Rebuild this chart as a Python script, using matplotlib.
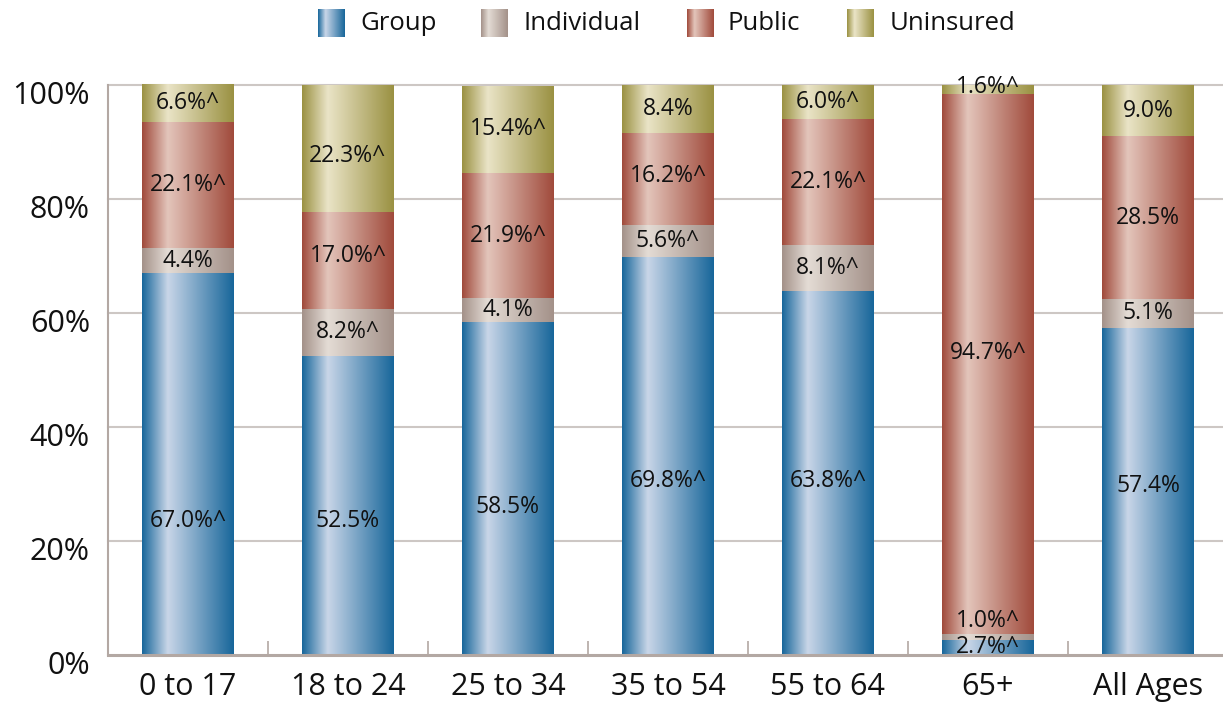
import numpy as np
import matplotlib
matplotlib.use('Agg')
import matplotlib.pyplot as plt
from matplotlib.colors import LinearSegmentedColormap
import matplotlib.transforms as mtrans

plt.rcParams['font.family'] = ['Open Sans', 'DejaVu Sans']

# ---------------- data ----------------
categories = ['0 to 17', '18 to 24', '25 to 34', '35 to 54', '55 to 64', '65+', 'All Ages']
series_names = ['Group', 'Individual', 'Public', 'Uninsured']
group = [67.0, 52.5, 58.5, 69.8, 63.8, 2.7, 57.4]
individual = [4.4, 8.2, 4.1, 5.6, 8.1, 1.0, 5.1]
public = [22.1, 17.0, 21.9, 16.2, 22.1, 94.7, 28.5]
uninsured = [6.6, 22.3, 15.4, 8.4, 6.0, 1.6, 9.0]
# "^" marker flags on labels
group_flag = [1, 0, 0, 1, 1, 1, 0]
individual_flag = [0, 1, 0, 1, 1, 1, 0]
public_flag = [1, 1, 1, 1, 1, 1, 0]
uninsured_flag = [1, 1, 1, 0, 1, 1, 0]
yticks = [0, 20, 40, 60, 80, 100]

series_values = [group, individual, public, uninsured]
series_flags = [group_flag, individual_flag, public_flag, uninsured_flag]

# ---------------- style ----------------
dark_colors = ['#17669a', '#a39189', '#a04a3b', '#9a9142']
light_colors = ['#c9d6e8', '#e4dcd5', '#e3c5bb', '#eae4c7']
grid_color = '#cdc7c4'
spine_color = '#b3a8a3'
text_color = '#111111'

# label position overrides (series index, category index) -> y value
label_y_override = {(0, 0): 23.5, (0, 1): 23.5, (0, 2): 26.0, (0, 3): 30.5,
                    (0, 4): 30.5, (0, 6): 29.6, (1, 5): 6.0, (2, 5): 53.0,
                    (3, 5): 99.6, (3, 1): 87.5, (2, 1): 70.0, (2, 3): 84.0}


def make_cmap(i):
    return LinearSegmentedColormap.from_list(
        'g%d' % i, [(0.0, dark_colors[i]), (0.28, light_colors[i]), (1.0, dark_colors[i])])


cmaps = [make_cmap(i) for i in range(4)]
grad = np.linspace(0, 1, 256).reshape(1, -1)

W, H, DPI = 1223, 711, 100
fig = plt.figure(figsize=(W / DPI, H / DPI), dpi=DPI)
ax = fig.add_axes([108 / W, 1 - 655 / H, 1120 / W, 570 / H])

x = np.arange(len(categories))
bar_w = 0.57
ax.set_xlim(-0.5, len(categories) - 0.5)
ax.set_ylim(0, 100)

# gridlines
for yv in yticks[1:]:
    ax.axhline(yv, color=grid_color, lw=1.5, zorder=0, clip_on=False)

bottoms = np.zeros(len(categories))
for si, vals in enumerate(series_values):
    bars = ax.bar(x, vals, bar_w, bottom=bottoms, facecolor='none', edgecolor='none',
                  zorder=2)
    for ci, b in enumerate(bars):
        x0, y0 = b.get_x(), b.get_y()
        x1, y1 = x0 + b.get_width(), y0 + b.get_height()
        im = ax.imshow(grad, cmap=cmaps[si], extent=[x0, x1, y0, y1], aspect='auto',
                       interpolation='bilinear', zorder=2)
        im.set_clip_path(b)
        yl = label_y_override.get((si, ci), y0 + vals[ci] / 2)
        txt = '%.1f%%' % vals[ci] + ('^' if series_flags[si][ci] else '')
        ax.text(b.get_x() + b.get_width() / 2, yl, txt, ha='center', va='center',
                fontsize=16.5, color=text_color, zorder=3)
    bottoms = bottoms + np.array(vals)

ax.set_aspect('auto')

# axes styling
for s in ['top', 'right']:
    ax.spines[s].set_visible(False)
ax.spines['left'].set_color(spine_color)
ax.spines['left'].set_linewidth(1.5)
ax.spines['bottom'].set_color(spine_color)
ax.spines['bottom'].set_linewidth(2.2)
ax.spines['left'].set_zorder(1)

ax.set_yticks(yticks)
ax.set_yticklabels(['%d%%' % v for v in yticks])
ax.tick_params(axis='y', length=0, pad=13, labelsize=22, labelcolor=text_color)
off = mtrans.ScaledTranslation(0, -7 / DPI, fig.dpi_scale_trans)
for lab in ax.get_yticklabels():
    lab.set_transform(lab.get_transform() + off)

ax.set_xticks(x)
ax.set_xticklabels(categories)
ax.tick_params(axis='x', which='major', length=0, pad=12, labelsize=22, labelcolor=text_color)
ax.set_xticks(np.arange(0.5, len(categories) - 0.5, 1.0), minor=True)
ax.tick_params(axis='x', which='minor', direction='in', length=10, width=1.2, color=spine_color)

# legend (manual)
sw_x = [318, 481, 687, 847]
tx_x = [360, 524, 727, 890]
for i, name in enumerate(series_names):
    sax = fig.add_axes([sw_x[i] / W, 1 - 37 / H, 27 / W, 28 / H])
    sax.imshow(grad, cmap=cmaps[i], aspect='auto', interpolation='bilinear')
    sax.axis('off')
    fig.text(tx_x[i] / W, 1 - 23 / H, name, ha='left', va='center', fontsize=18.5,
             color=text_color)

fig.savefig('out.png', dpi=DPI)
